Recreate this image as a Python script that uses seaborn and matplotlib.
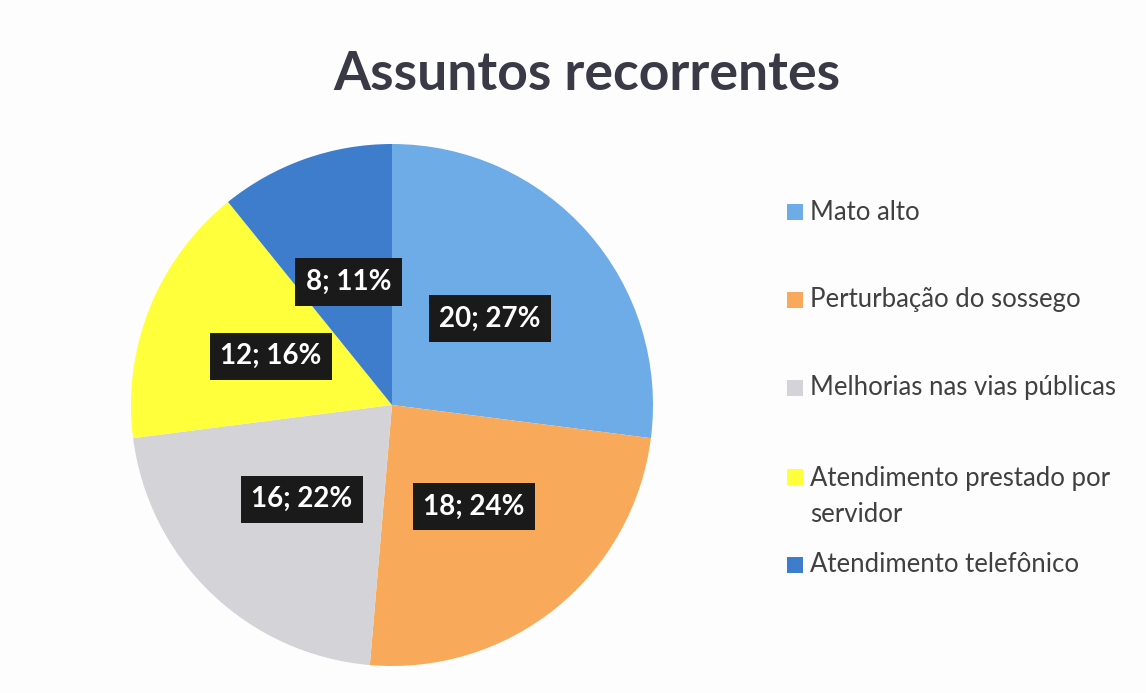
import matplotlib
matplotlib.use("Agg")
import matplotlib.pyplot as plt
import seaborn as sns
from matplotlib.patches import Rectangle

categories = ["Mato alto", "Perturbação do sossego", "Melhorias nas vias públicas",
              "Atendimento prestado por\nservidor", "Atendimento telefônico"]
values = [20, 18, 16, 12, 8]
colors = ["#6DACE6", "#F9A95A", "#D3D3D8", "#FFFF3C", "#3E7DCB"]

sns.set_theme(style="white")
plt.rcParams['font.family'] = ['Lato', 'DejaVu Sans']

W, H = 1146, 693
fig = plt.figure(figsize=(W / 100, H / 100), dpi=100)
fig.patch.set_facecolor("#FDFDFD")

cx, cy, R = 392, 405, 261
ax = fig.add_axes([(cx - R) / W, (H - cy - R) / H, 2 * R / W, 2 * R / H])
total = sum(values)

wedges, texts, autotexts = ax.pie(
    values, colors=colors, startangle=90, counterclock=False,
    radius=1.0, pctdistance=0.5,
    autopct=lambda p: f"{round(p * total / 100)}; {p:.0f}%",
    wedgeprops=dict(linewidth=0),
    textprops=dict(color="white", fontsize=20, fontweight="bold"),
)
for t in autotexts:
    t.set_bbox(dict(boxstyle="square,pad=0.38", facecolor="#1a1a1a", edgecolor="none"))
ax.set_xlim(-1, 1)
ax.set_ylim(-1, 1)
ax.set_aspect("equal")
ax.axis("off")

fig.text(587 / W, 1 - 75 / H, "Assuntos recorrentes", ha="center", va="center",
         fontsize=38.5, fontweight="bold", color="#3A3A46")

# legend
ys = [212, 300, 388, 477, 565]
for lab, col, y in zip(categories, colors, ys):
    fig.patches.append(Rectangle(((787) / W, 1 - (y + 8) / H), 16 / W, 16 / H,
                                 transform=fig.transFigure, facecolor=col,
                                 edgecolor="none"))
    if "\n" in lab:
        fig.text(810 / W, 1 - (y - 11) / H, lab, ha="left", va="top",
                 fontsize=18.5, color="#404040", linespacing=1.55)
    else:
        fig.text(810 / W, 1 - y / H, lab, ha="left", va="center",
                 fontsize=18.5, color="#404040")

fig.savefig("out.png", dpi=100, facecolor=fig.get_facecolor())
